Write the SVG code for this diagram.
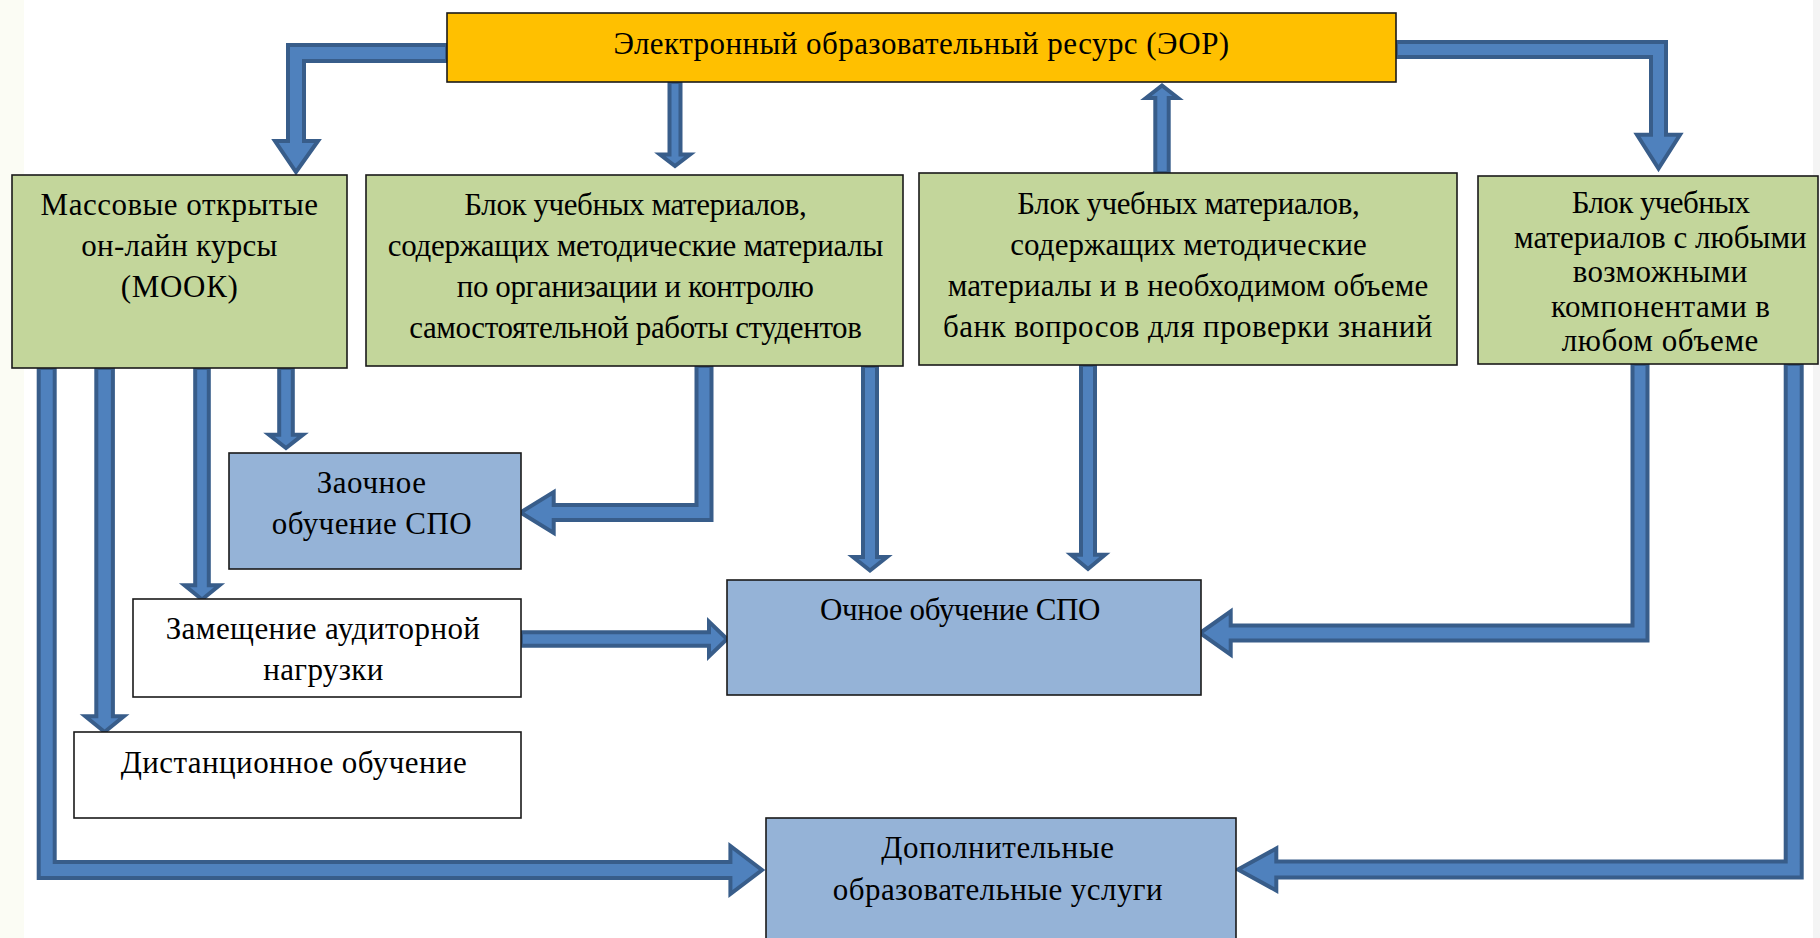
<svg xmlns="http://www.w3.org/2000/svg" width="1820" height="938" viewBox="0 0 1820 938">
<style>
.arr{fill:#4F81BD;stroke:#385D8A;stroke-width:4;stroke-linejoin:miter;stroke-miterlimit:10}
.box{stroke:#1a1a1a;stroke-width:1.6}
.eor{fill:#FFC000}
.grn{fill:#C3D69B}
.blu{fill:#95B3D7}
.wht{fill:#FFFFFF}
text{font-family:"Liberation Serif","Times New Roman",serif;font-size:31px;fill:#000;text-anchor:middle}
</style>
<rect x="0" y="0" width="1820" height="938" fill="#FFFFFF"/>
<rect x="0" y="0" width="24" height="938" fill="#FBFCF4"/>
<rect x="1813" y="0" width="7" height="938" fill="#F4F4F4"/>
<g id="connectors">
<path class="arr" d="M447,45 H288 V141 H275 L296,172 L318,141 H304 V61 H447 Z"/>
<path class="arr" d="M669.5,82 V154.5 H660 L675,166 L690,154.5 H680.5 V82 Z"/>
<path class="arr" d="M1155.3,173 V98 H1146 L1162,85.5 L1178,98 H1168.7 V173 Z"/>
<path class="arr" d="M1396,42 H1666 V134.7 H1680 L1658.5,168.5 L1637,134.7 H1651 V57 H1396 Z"/>
<path class="arr" d="M279.2,368 V434.7 H269 L286,448 L303,434.7 H292.8 V368 Z"/>
<path class="arr" d="M195.2,368 V585.3 H184.5 L202,599.5 L219.5,585.3 H208.8 V368 Z"/>
<path class="arr" d="M96.3,368 V716.3 H85.3 L104.6,732 L123.9,716.3 H112.9 V368 Z"/>
<path class="arr" d="M38.7,368 V878 H730.4 V894 L762,870 L730.4,846 V862 H54.7 V368 Z"/>
<path class="arr" d="M696.5,366 V505 H553.7 V492 L520.5,512.5 L553.7,533 V520 H711.5 V366 Z"/>
<path class="arr" d="M863,366 V557 H853 L870,570.5 L887,557 H877 V366 Z"/>
<path class="arr" d="M1081,365 V554.7 H1071 L1088,569 L1105,554.7 H1095 V365 Z"/>
<path class="arr" d="M1632.5,364 V625.5 H1230.7 V611.3 L1200,633 L1230.7,654.7 V640.5 H1647.5 V364 Z"/>
<path class="arr" d="M1785.7,364 V861.5 H1276.3 V848.5 L1238,869.5 L1276.3,890.5 V877.5 H1801.7 V364 Z"/>
<path class="arr" d="M521,632.3 H709 V621.6 L727,639 L709,656.4 V645.7 H521 Z"/>
</g>
<g id="eor">
<rect class="box eor" x="447" y="13" width="949" height="69"/>
<text x="921.3" y="54" textLength="615.8">Электронный образовательный ресурс (ЭОР)</text>
</g>
<g id="mook">
<rect class="box grn" x="12" y="175" width="335" height="193"/>
<text x="179.3" y="215" textLength="277.4">Массовые открытые</text>
<text x="179.3" y="256" textLength="196">он-лайн курсы</text>
<text x="179.3" y="297" textLength="117">(МООК)</text>
</g>
<g id="block2">
<rect class="box grn" x="366" y="175" width="537" height="191"/>
<text x="635.5" y="215" textLength="342.4">Блок учебных материалов,</text>
<text x="635.5" y="256" textLength="495.6">содержащих методические материалы</text>
<text x="635.3" y="297" textLength="357">по организации и контролю</text>
<text x="635.5" y="338" textLength="452.7">самостоятельной работы студентов</text>
</g>
<g id="block3">
<rect class="box grn" x="919" y="173" width="538" height="192"/>
<text x="1188.5" y="214" textLength="342.4">Блок учебных материалов,</text>
<text x="1188.5" y="255" textLength="356.4">содержащих методические</text>
<text x="1188" y="296" textLength="480.6">материалы и в необходимом объеме</text>
<text x="1187.7" y="337" textLength="489.2">банк вопросов для проверки знаний</text>
</g>
<g id="block4">
<rect class="box grn" x="1478" y="176" width="340" height="188"/>
<text x="1660.8" y="213" textLength="178.3">Блок учебных</text>
<text x="1660.3" y="247.5" textLength="292.7">материалов с любыми</text>
<text x="1660" y="282" textLength="174.7">возможными</text>
<text x="1660.5" y="316.5" textLength="219">компонентами в</text>
<text x="1660" y="351" textLength="196.7">любом объеме</text>
</g>
<g id="zaochnoe">
<rect class="box blu" x="229" y="453" width="292" height="116"/>
<text x="371.3" y="493" textLength="109.3">Заочное</text>
<text x="371.7" y="534" textLength="200">обучение СПО</text>
</g>
<g id="zameshchenie">
<rect class="box wht" x="133" y="599" width="388" height="98"/>
<text x="322.8" y="639" textLength="314.3">Замещение аудиторной</text>
<text x="323.3" y="680" textLength="120">нагрузки</text>
</g>
<g id="distancionnoe">
<rect class="box wht" x="74" y="732" width="447" height="86"/>
<text x="293.7" y="773" textLength="346">Дистанционное обучение</text>
</g>
<g id="ochnoe">
<rect class="box blu" x="727" y="580" width="474" height="115"/>
<text x="960.2" y="620" textLength="280.4">Очное обучение СПО</text>
</g>
<g id="dop">
<rect class="box blu" x="766" y="818" width="470" height="125"/>
<text x="997.6" y="858" textLength="232.6">Дополнительные</text>
<text x="997.7" y="900" textLength="329.7">образовательные услуги</text>
</g>
</svg>
